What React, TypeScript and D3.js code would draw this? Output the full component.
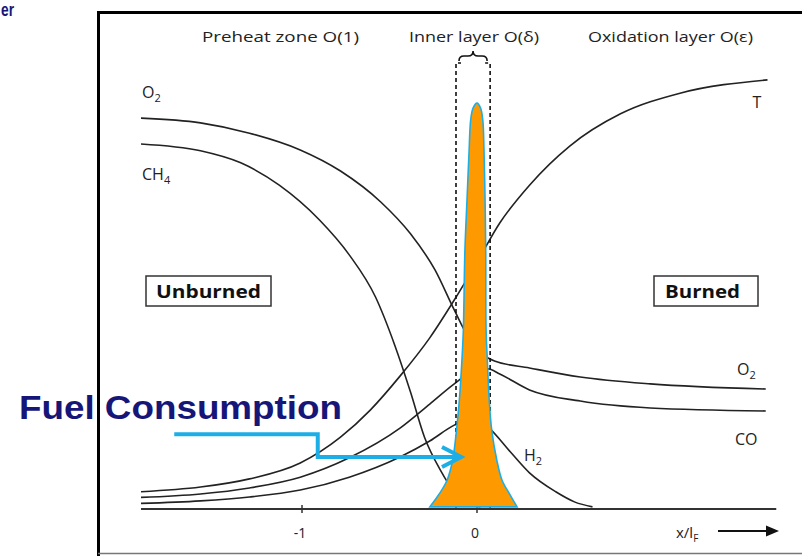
import React from "react";
import * as d3 from "d3";

// x in units of x/l_F, y normalised (0 = axis line, 1 = burned temperature)
const o2X = [-1.92, -1.58, -1.3, -1.01, -0.78, -0.55, -0.38, -0.24, -0.13, -0.04, 0.03, 0.1, 0.3, 0.59, 0.99, 1.65];
const o2Y = [0.909, 0.898, 0.874, 0.835, 0.786, 0.714, 0.64, 0.556, 0.463, 0.393, 0.36, 0.344, 0.328, 0.307, 0.291, 0.279];

const ch4X = [-1.92, -1.58, -1.35, -1.13, -0.9, -0.73, -0.58, -0.47, -0.38, -0.3, -0.21, -0.13, -0.05, 0.02];
const ch4Y = [0.849, 0.833, 0.805, 0.753, 0.672, 0.591, 0.493, 0.381, 0.272, 0.167, 0.091, 0.04, 0.014, 0.005];

const tX = [-1.92, -1.58, -1.3, -1.01, -0.78, -0.61, -0.44, -0.27, -0.13, 0, 0.13, 0.3, 0.53, 0.82, 1.16, 1.66];
const tY = [0.04, 0.051, 0.07, 0.107, 0.167, 0.23, 0.309, 0.398, 0.486, 0.574, 0.665, 0.753, 0.844, 0.919, 0.967, 0.998];

const coX = [-1.92, -1.58, -1.3, -1.01, -0.73, -0.44, -0.27, -0.13, -0.03, 0.06, 0.13, 0.3, 0.59, 0.99, 1.65];
const coY = [0.027, 0.035, 0.049, 0.074, 0.119, 0.188, 0.244, 0.291, 0.319, 0.326, 0.314, 0.277, 0.251, 0.235, 0.228];

const h2X = [-1.92, -1.58, -1.3, -1.01, -0.73, -0.44, -0.27, -0.13, -0.01, 0.07, 0.19, 0.3, 0.45, 0.56, 0.66];
const h2Y = [0.013, 0.019, 0.028, 0.044, 0.074, 0.121, 0.158, 0.195, 0.212, 0.188, 0.133, 0.084, 0.04, 0.016, 0.005];

// fuel consumption rate (orange peak): level and left/right edges
const peakV = [0.005, 0.033, 0.067, 0.114, 0.184, 0.253, 0.347, 0.416, 0.602, 0.719, 0.835, 0.905, 0.933, 0.944];
const peakLeft = [-0.269, -0.219, -0.171, -0.139, -0.117, -0.101, -0.086, -0.078, -0.069, -0.057, -0.045, -0.036, -0.022, 0];
const peakRight = [0.229, 0.189, 0.143, 0.113, 0.084, 0.07, 0.059, 0.052, 0.05, 0.046, 0.04, 0.033, 0.02, 0];

const tickValues = [-1, 0];
const tickLabels = ["-1", "0"];
const zoneLabels = ["Preheat zone O(1)", "Inner layer O(\u03b4)", "Oxidation layer O(\u03b5)"];
const innerLayer = [-0.12, 0.075];

const FONT = "'Open Sans', 'Noto Sans', sans-serif";

export default function App() {
  const x = d3.scaleLinear().domain([-1, 0]).range([302, 477]);
  const y = d3.scaleLinear().domain([0, 1]).range([509, 79]);
  const line = d3
    .line<[number, number]>()
    .x((d) => x(d[0]))
    .y((d) => y(d[1]))
    .curve(d3.curveMonotoneX);
  const zip = (xs: number[], ys: number[]) => xs.map((v, i) => [v, ys[i]] as [number, number]);
  const series = [zip(o2X, o2Y), zip(ch4X, ch4Y), zip(tX, tY), zip(coX, coY), zip(h2X, h2Y)];

  const peakPts: [number, number][] = [
    ...peakLeft.map((u, i) => [u, peakV[i]] as [number, number]),
    ...peakRight.map((u, i) => [u, peakV[i]] as [number, number]).reverse().slice(1),
  ];
  const peakLine = d3
    .line<[number, number]>()
    .x((d) => x(d[0]))
    .y((d) => y(d[1]))
    .curve(d3.curveCatmullRom.alpha(0.5));

  const axisY = y(0);
  const xl = x(innerLayer[0]);
  const xr = x(innerLayer[1]);
  const boxTop = 63;
  const xm = (xl + xr) / 2;

  const navy = "#161679";
  const blue = "#1daee6";

  const sub = (main: string, s: string, px: number, py: number, anchor = "start") => (
    <text x={px} y={py} fontFamily={FONT} fontSize={16} fill="#222" textAnchor={anchor}>
      {main}
      <tspan fontSize={11} dy={4}>
        {s}
      </tspan>
    </text>
  );

  return (
    <svg
      width={802}
      height={556}
      style={{ position: "absolute", left: 0, top: 0, display: "block", background: "#fff" }}
    >
      <rect x={0} y={0} width={802} height={556} fill="#fff" />
      {/* frame */}
      <path d="M98.5,556 V12.5 H802" fill="none" stroke="#000" strokeWidth={3} />
      <line x1={98} x2={802} y1={553.5} y2={553.5} stroke="#777" strokeWidth={1.5} />
      <text x={1} y={16} fontFamily="Arial, 'Liberation Sans', sans-serif" fontWeight="bold" fontSize={19} fill={navy} textLength={13} lengthAdjust="spacingAndGlyphs">
        er
      </text>

      {/* zone labels */}
      <text x={202} y={42} fontFamily={FONT} fontSize={15} fill="#222" textLength={157} lengthAdjust="spacingAndGlyphs">
        {zoneLabels[0]}
      </text>
      <text x={409} y={42} fontFamily={FONT} fontSize={15} fill="#222" textLength={130} lengthAdjust="spacingAndGlyphs">
        {zoneLabels[1]}
      </text>
      <text x={588} y={42} fontFamily={FONT} fontSize={15} fill="#222" textLength={165} lengthAdjust="spacingAndGlyphs">
        {zoneLabels[2]}
      </text>

      {/* brace */}
      <path
        d={`M${xl + 3},61 Q${xl + 3},56 ${xl + 8},56 L${xm - 5},56 Q${xm},56 ${xm},51 Q${xm},56 ${xm + 5},56 L${xr - 8},56 Q${xr - 3},56 ${xr - 3},61`}
        fill="none"
        stroke="#111"
        strokeWidth={1.6}
      />

      {/* curves */}
      {series.map((s, i) => (
        <path key={i} d={line(s) || ""} fill="none" stroke="#222" strokeWidth={1.6} />
      ))}

      {/* inner layer dashed box */}
      <path
        d={`M${xl},${axisY} V${boxTop} H${xl + 5} M${xr},${axisY} V${boxTop} H${xr - 5}`}
        fill="none"
        stroke="#111"
        strokeWidth={1.6}
        strokeDasharray="4 3"
      />

      {/* axis */}
      <line x1={x(-1.92)} x2={x(1.71)} y1={axisY} y2={axisY} stroke="#333" strokeWidth={2} />
      {tickValues.map((t, i) => (
        <g key={t}>
          <line x1={x(t)} x2={x(t)} y1={axisY - 4} y2={axisY + 4} stroke="#333" strokeWidth={1.5} />
          <text x={x(t) - 2} y={538} textAnchor="middle" fontFamily={FONT} fontSize={14} fill="#222">
            {tickLabels[i]}
          </text>
        </g>
      ))}
      <text x={676} y={538} fontFamily={FONT} fontSize={15} fill="#222">
        x/l
        <tspan fontSize={10} dy={4}>
          F
        </tspan>
      </text>
      <line x1={718} x2={768} y1={531} y2={531} stroke="#111" strokeWidth={2} />
      <path d="M766,525.5 L779,531 L766,536.5 Z" fill="#111" />

      {/* species labels */}
      {sub("O", "2", 142, 98)}
      {sub("CH", "4", 142, 180)}
      <text x={757} y={108} textAnchor="middle" fontFamily={FONT} fontSize={16} fill="#222">
        T
      </text>
      {sub("O", "2", 737, 375)}
      <text x={735} y={445} fontFamily={FONT} fontSize={16} fill="#222">
        CO
      </text>
      {sub("H", "2", 524, 461)}

      {/* Unburned / Burned boxes */}
      <rect x={146} y={276} width={125} height={30} fill="none" stroke="#333" strokeWidth={1.5} />
      <text x={156} y={298} fontFamily={FONT} fontWeight="bold" fontSize={18} fill="#111" textLength={105} lengthAdjust="spacingAndGlyphs">
        Unburned
      </text>
      <rect x={654} y={276} width={104} height={30} fill="none" stroke="#333" strokeWidth={1.5} />
      <text x={665} y={298} fontFamily={FONT} fontWeight="bold" fontSize={18} fill="#111" textLength={75} lengthAdjust="spacingAndGlyphs">
        Burned
      </text>

      {/* fuel consumption peak */}
      <path d={(peakLine(peakPts) || "") + "Z"} fill="#ff9900" stroke={blue} strokeWidth={1.6} />

      {/* annotation */}
      <text x={19} y={419} fontFamily="Arial, 'Liberation Sans', sans-serif" fontWeight="bold" fontSize={33} fill={navy} textLength={323} lengthAdjust="spacingAndGlyphs">
        Fuel Consumption
      </text>
      <path
        d={`M${x(-1.73)},${y(0.174)} H${x(-0.91)} V${y(0.121)} H${x(-0.1)}`}
        fill="none"
        stroke={blue}
        strokeWidth={4}
      />
      <path
        d={`M${x(-0.2)},${y(0.121) - 10} L${x(-0.09)},${y(0.121)} L${x(-0.2)},${y(0.121) + 10}`}
        fill="none"
        stroke={blue}
        strokeWidth={4}
        strokeLinejoin="miter"
      />
    </svg>
  );
}
